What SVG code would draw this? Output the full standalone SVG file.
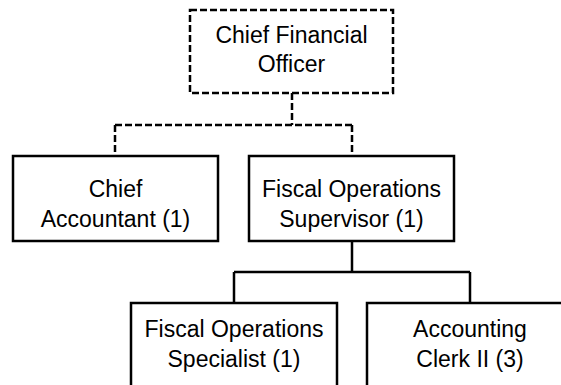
<svg xmlns="http://www.w3.org/2000/svg" width="561" height="385" viewBox="0 0 561 385">
<style>
.box{fill:#fff;stroke:#000;stroke-width:2.5}
.dash{stroke-dasharray:7,3}
.ln{fill:none;stroke:#000;stroke-width:2.5}
text{font-family:"Liberation Sans",Arial,sans-serif;font-size:23px;fill:#000;text-anchor:middle}
</style>
<rect width="561" height="385" fill="#fff"/>
<g id="connectors">
<path class="ln dash" d="M292,93 V125 M115,125 H352 M115,125 V156 M352,125 V156"/>
<path class="ln" d="M352,241 V272 M234,272 H470 M234,272 V303 M470,272 V303"/>
</g>
<g id="cfo">
<rect class="box dash" x="190" y="10" width="203" height="83"/>
<text x="291.5" y="43">Chief Financial</text>
<text x="291.5" y="72">Officer</text>
</g>
<g id="chief-accountant">
<rect class="box" x="13" y="156" width="205" height="85"/>
<text x="115.5" y="197">Chief</text>
<text x="115.5" y="227">Accountant (1)</text>
</g>
<g id="fiscal-supervisor">
<rect class="box" x="249" y="156" width="205" height="85"/>
<text x="351.5" y="197">Fiscal Operations</text>
<text x="351.5" y="227">Supervisor (1)</text>
</g>
<g id="fiscal-specialist">
<rect class="box" x="131" y="303" width="206" height="95"/>
<text x="234" y="337">Fiscal Operations</text>
<text x="234" y="367">Specialist (1)</text>
</g>
<g id="accounting-clerk">
<rect class="box" x="367" y="303" width="206" height="95"/>
<text x="470" y="337">Accounting</text>
<text x="470" y="367">Clerk II (3)</text>
</g>
</svg>
